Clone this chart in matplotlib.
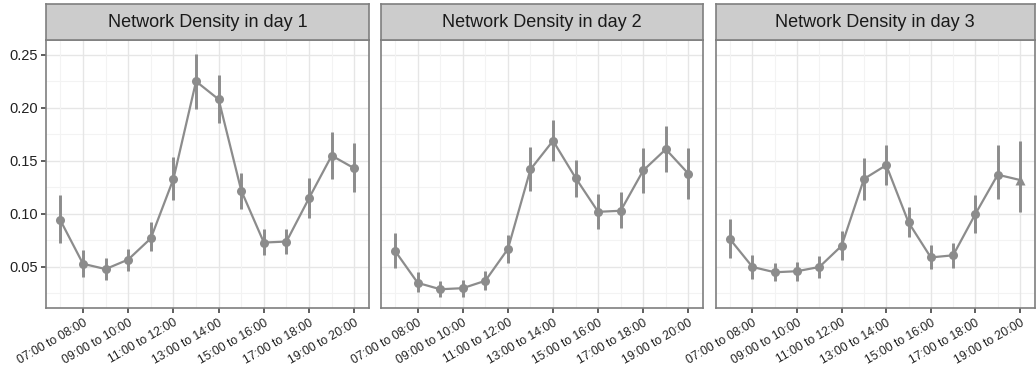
import numpy as np
import matplotlib
matplotlib.use('Agg')
import matplotlib.pyplot as plt

plt.rcParams['font.family'] = ['Liberation Sans', 'DejaVu Sans']

# 14 time slots, labels on every second one
slot = np.arange(1, 15)
tick_pos = [2, 4, 6, 8, 10, 12, 14]
tick_labels = ['07:00 to 08:00', '09:00 to 10:00', '11:00 to 12:00', '13:00 to 14:00',
               '15:00 to 16:00', '17:00 to 18:00', '19:00 to 20:00']

day1_mean = [0.094, 0.053, 0.048, 0.057, 0.077, 0.133, 0.225, 0.208, 0.122, 0.073, 0.074, 0.115, 0.155, 0.143]
day1_lo = [0.073, 0.041, 0.038, 0.046, 0.065, 0.113, 0.199, 0.186, 0.105, 0.061, 0.062, 0.096, 0.133, 0.121]
day1_hi = [0.118, 0.066, 0.058, 0.067, 0.092, 0.154, 0.251, 0.231, 0.139, 0.086, 0.086, 0.134, 0.177, 0.167]

day2_mean = [0.065, 0.035, 0.029, 0.030, 0.037, 0.067, 0.142, 0.169, 0.134, 0.102, 0.103, 0.141, 0.161, 0.138]
day2_lo = [0.049, 0.026, 0.022, 0.022, 0.028, 0.054, 0.122, 0.150, 0.116, 0.086, 0.087, 0.120, 0.140, 0.114]
day2_hi = [0.082, 0.045, 0.037, 0.038, 0.046, 0.080, 0.163, 0.189, 0.151, 0.119, 0.121, 0.162, 0.183, 0.162]

day3_mean = [0.076, 0.050, 0.045, 0.046, 0.050, 0.070, 0.133, 0.146, 0.092, 0.059, 0.061, 0.100, 0.137, 0.132]
day3_lo = [0.058, 0.039, 0.037, 0.037, 0.040, 0.057, 0.113, 0.127, 0.078, 0.048, 0.049, 0.082, 0.114, 0.102]
day3_hi = [0.095, 0.061, 0.054, 0.055, 0.060, 0.084, 0.153, 0.165, 0.107, 0.071, 0.073, 0.118, 0.165, 0.169]
day3_shape = ['o'] * 13 + ['^']

days = [
    ('Network Density in day 1', day1_mean, day1_lo, day1_hi, ['o'] * 14),
    ('Network Density in day 2', day2_mean, day2_lo, day2_hi, ['o'] * 14),
    ('Network Density in day 3', day3_mean, day3_lo, day3_hi, day3_shape),
]

W, H = 1036, 369
fig = plt.figure(figsize=(W / 100, H / 100), dpi=100)

panel_x = [(45.7, 369.0), (380.5, 703.0), (715.7, 1034.5)]
panel_top, panel_bot = 40.0, 307.7
strip_top = 3.7

grey = '#8C8C8C'
border = '#7F7F7F'

for i, (title, mean, lo, hi, shapes) in enumerate(days):
    x0, x1 = panel_x[i]
    ax = fig.add_axes([x0 / W, (H - panel_bot) / H, (x1 - x0) / W, (panel_bot - panel_top) / H])
    ax.set_xlim(0.35, 14.65)
    ax.set_ylim(0.0116, 0.264)

    # grid
    for yv in [0.025, 0.075, 0.125, 0.175, 0.225]:
        ax.axhline(yv, color='#F3F3F3', lw=0.8, zorder=0)
    for yv in [0.05, 0.10, 0.15, 0.20, 0.25]:
        ax.axhline(yv, color='#E6E6E6', lw=1.0, zorder=0)
    for xv in slot:
        if xv in tick_pos:
            ax.axvline(xv, color='#E6E6E6', lw=1.0, zorder=0)
        else:
            ax.axvline(xv, color='#F3F3F3', lw=0.8, zorder=0)

    ax.vlines(slot, lo, hi, color=grey, lw=2.1, zorder=2)
    ax.plot(slot, mean, color=grey, lw=1.6, zorder=3)
    for xv, yv, m in zip(slot, mean, shapes):
        ax.plot(xv, yv, marker=m, color=grey, ms=6.5 if m == 'o' else 7, mec='none', zorder=4)

    ax.set_xticks(tick_pos)
    ax.set_xticklabels(tick_labels, rotation=30, ha='right', va='top',
                       rotation_mode='anchor', fontsize=8.8, color='#222222')
    ax.set_yticks([0.05, 0.10, 0.15, 0.20, 0.25])
    if i == 0:
        ax.set_yticklabels(['0.05', '0.10', '0.15', '0.20', '0.25'], fontsize=10.5, color='#222222')
        ax.tick_params(axis='y', length=3.5, width=1.1, color='#333333', pad=2)
    else:
        ax.tick_params(axis='y', left=False, labelleft=False)
    ax.tick_params(axis='x', length=3.5, width=1.1, color='#333333', pad=3)
    for s in ax.spines.values():
        s.set_color(border)
        s.set_linewidth(1.2)

    # facet strip
    sax = fig.add_axes([x0 / W, (H - panel_top) / H, (x1 - x0) / W, (panel_top - strip_top) / H])
    sax.set_facecolor('#CCCCCC')
    sax.set_xticks([])
    sax.set_yticks([])
    for s in sax.spines.values():
        s.set_color(border)
        s.set_linewidth(1.2)
    sax.text(0.5, 0.48, title, ha='center', va='center', fontsize=13, color='#1A1A1A',
             transform=sax.transAxes)

fig.savefig('out.png', dpi=100)
